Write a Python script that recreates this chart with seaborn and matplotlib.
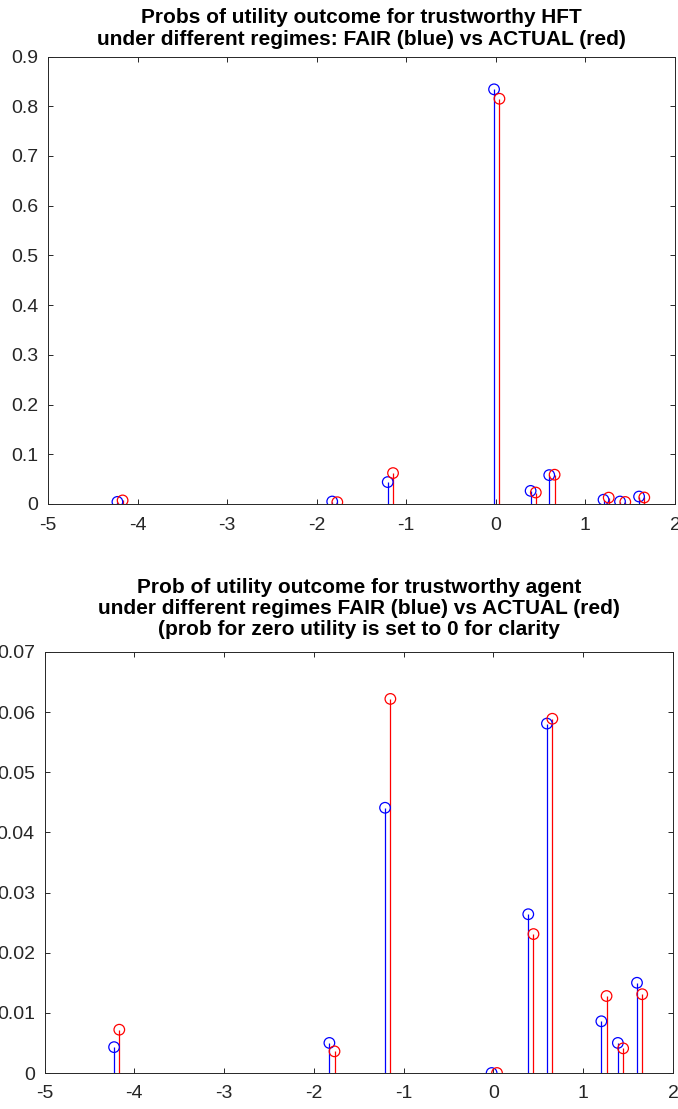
import matplotlib
matplotlib.use("Agg")
import matplotlib.pyplot as plt
import seaborn as sns
import pandas as pd

# data
fair_x = [-4.225, -1.827, -1.207, -0.02, 0.388, 0.596, 1.202, 1.386, 1.599]
actual_x = [-4.167, -1.770, -1.148, 0.04, 0.446, 0.656, 1.260, 1.445, 1.657]
fair_p = [0.0043, 0.0050, 0.0441, 0.834, 0.0264, 0.0581, 0.0086, 0.0050, 0.0150]
actual_p = [0.0072, 0.0036, 0.0622, 0.815, 0.0231, 0.0589, 0.0128, 0.0041, 0.0131]
fair_p_nozero = [0.0043, 0.0050, 0.0441, 0.0, 0.0264, 0.0581, 0.0086, 0.0050, 0.0150]
actual_p_nozero = [0.0072, 0.0036, 0.0622, 0.0, 0.0231, 0.0589, 0.0128, 0.0041, 0.0131]

title_top = "Probs of utility outcome for trustworthy HFT\nunder different regimes: FAIR (blue) vs ACTUAL (red)"
title_bot = ("Prob of utility outcome for trustworthy agent\n"
             "under different regimes FAIR (blue) vs ACTUAL (red)\n"
             "(prob for zero utility is set to 0 for clarity")
xticks = [-5, -4, -3, -2, -1, 0, 1, 2]
yticks_top = [0, 0.1, 0.2, 0.3, 0.4, 0.5, 0.6, 0.7, 0.8, 0.9]
yticks_bot = [0, 0.01, 0.02, 0.03, 0.04, 0.05, 0.06, 0.07]

sns.set_theme(style="white")
plt.rcParams['font.family'] = ['Liberation Sans', 'DejaVu Sans']

W, H = 678, 1109
fig = plt.figure(figsize=(W / 100, H / 100), dpi=100)

def px_axes(left, top, right, bottom):
    return fig.add_axes([left / W, 1 - bottom / H, (right - left) / W, (bottom - top) / H])

ax1 = px_axes(48, 56.5, 675, 504)
ax2 = px_axes(44.5, 652, 673, 1073)

def draw(ax, yf, ya, yticks, ylim, title, tpad):
    df = pd.DataFrame({
        "x": fair_x + actual_x,
        "p": list(yf) + list(ya),
        "regime": ["FAIR"] * len(fair_x) + ["ACTUAL"] * len(actual_x),
    })
    cols = {"FAIR": "#0000ff", "ACTUAL": "#ff0000"}
    for reg, sub in df.groupby("regime"):
        ax.vlines(sub["x"], 0, sub["p"], color=cols[reg], lw=0.9, zorder=2)
    sns.scatterplot(data=df, x="x", y="p", hue="regime", palette=cols,
                    marker="o", s=58, linewidth=0.9,
                    legend=False, ax=ax, zorder=3)
    ax.set_xlim(-5, 2)
    ax.set_ylim(*ylim)
    ax.set_xticks(xticks)
    ax.set_xticklabels([str(t) for t in xticks])
    ax.set_yticks(yticks)
    ax.set_yticklabels([("%g" % t) for t in yticks])
    ax.set_xlabel("")
    ax.set_ylabel("")
    ax.tick_params(direction="in", length=3.6, width=0.7, colors="#262626",
                   labelsize=14, top=True, right=True, bottom=True, left=True,
                   labeltop=False, labelright=False)
    ax.tick_params(axis="y", pad=7)
    ax.tick_params(axis="x", pad=9)
    for sp in ax.spines.values():
        sp.set_visible(True)
        sp.set_color("#262626")
        sp.set_linewidth(0.7)
    ax.set_title(title, fontsize=15, fontweight="bold", color="#000000",
                 linespacing=1.16, pad=tpad)

draw(ax1, fair_p, actual_p, yticks_top, (0, 0.9), title_top, 8.5)
draw(ax2, fair_p_nozero, actual_p_nozero, yticks_bot, (0, 0.07), title_bot, 12)

# open circles with coloured edges (MATLAB stem style)
for ax in (ax1, ax2):
    for coll in ax.collections:
        if isinstance(coll, matplotlib.collections.PathCollection):
            fc = coll.get_facecolors()
            if len(fc):
                coll.set_edgecolors(fc)
                coll.set_facecolors("none")

fig.savefig("out.png", dpi=100)
